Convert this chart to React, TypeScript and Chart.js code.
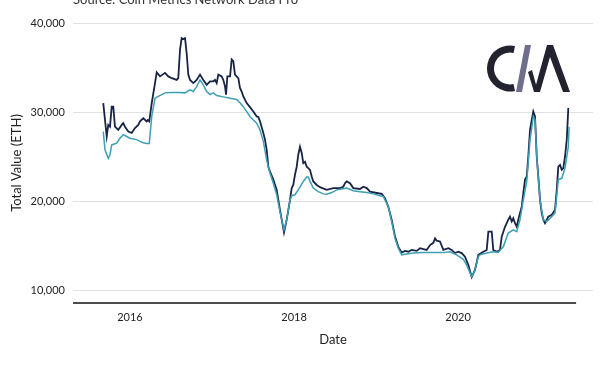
import React, { useEffect, useRef } from "react";
import { Chart, registerables } from "chart.js";

Chart.register(...registerables);

const SOURCE_TEXT = "Source: Coin Metrics Network Data Pro";
const X_TITLE = "Date";
const Y_TITLE = "Total Value (ETH)";
const X_TICKS = [2016, 2018, 2020];
const Y_TICKS = [10000, 20000, 30000, 40000];

// Dark series (decimal years / ETH)
const darkDates = [
  2015.674, 2015.716, 2015.735, 2015.756, 2015.777, 2015.796, 2015.817, 2015.857, 2015.899, 2015.918,
  2015.939, 2015.979, 2016.021, 2016.061, 2016.101, 2016.122, 2016.162, 2016.204, 2016.218, 2016.235,
  2016.265, 2016.305, 2016.326, 2016.366, 2016.427, 2016.467, 2016.509, 2016.57, 2016.589, 2016.61,
  2016.63, 2016.65, 2016.671, 2016.691, 2016.711, 2016.732, 2016.772, 2016.813, 2016.854, 2016.894,
  2016.935, 2016.976, 2017.016, 2017.037, 2017.057, 2017.077, 2017.118, 2017.138, 2017.159, 2017.171,
  2017.187, 2017.22, 2017.24, 2017.26, 2017.28, 2017.321, 2017.341, 2017.362, 2017.382, 2017.423,
  2017.463, 2017.504, 2017.545, 2017.565, 2017.585, 2017.626, 2017.646, 2017.667, 2017.687, 2017.707,
  2017.748, 2017.789, 2017.829, 2017.85, 2017.878, 2017.911, 2017.951, 2017.972, 2017.991, 2018.012,
  2018.033, 2018.052, 2018.073, 2018.094, 2018.113, 2018.134, 2018.155, 2018.174, 2018.195, 2018.216,
  2018.235, 2018.277, 2018.317, 2018.399, 2018.479, 2018.561, 2018.601, 2018.622, 2018.643, 2018.683,
  2018.723, 2018.805, 2018.845, 2018.887, 2018.927, 2019.009, 2019.07, 2019.11, 2019.15, 2019.191,
  2019.232, 2019.272, 2019.313, 2019.354, 2019.394, 2019.435, 2019.496, 2019.537, 2019.577, 2019.618,
  2019.659, 2019.699, 2019.72, 2019.74, 2019.78, 2019.821, 2019.882, 2019.923, 2019.963, 2020.004,
  2020.045, 2020.085, 2020.126, 2020.167, 2020.207, 2020.248, 2020.309, 2020.35, 2020.37, 2020.411,
  2020.43, 2020.472, 2020.512, 2020.533, 2020.573, 2020.613, 2020.634, 2020.655, 2020.674, 2020.695,
  2020.716, 2020.735, 2020.756, 2020.777, 2020.796, 2020.817, 2020.838, 2020.857, 2020.878, 2020.899,
  2020.918, 2020.939, 2020.96, 2020.979, 2021.0, 2021.021, 2021.04, 2021.061, 2021.101, 2021.143,
  2021.183, 2021.204, 2021.223, 2021.244, 2021.265, 2021.284, 2021.305, 2021.326, 2021.345,
];
const darkValues = [
  31000, 27250, 28550, 28350, 30600, 30600, 28350, 28000, 28550, 28750,
  28350, 27800, 27650, 28200, 28550, 28950, 29300, 28950, 29100, 28950,
  31000, 33250, 34450, 34000, 34400, 34000, 33800, 33600, 33800, 37000,
  38300, 38200, 38300, 36600, 34200, 33600, 33250, 33600, 34200, 33600,
  33050, 33450, 33450, 33600, 33250, 34200, 34000, 33600, 32850, 31950,
  34000, 34000, 35900, 35700, 34200, 33800, 32700, 32300, 31750, 31000,
  30550, 30050, 29500, 29450, 28950, 27650, 26900, 25750, 23850, 23300,
  22400, 21250, 19000, 17900, 16450, 17900, 20100, 21450, 21800, 22950,
  23850, 25200, 26100, 25400, 24250, 24400, 23850, 23700, 23500, 22750,
  22200, 21800, 21550, 21250, 21450, 21450, 21600, 22000, 22200, 22000,
  21450, 21350, 21600, 21450, 21050, 20900, 20800, 20300, 19350, 17900,
  16000, 14850, 14200, 14400, 14300, 14500, 14400, 14700, 14600, 14500,
  15050, 15300, 15800, 15550, 15450, 14500, 14700, 14500, 14150, 14300,
  14150, 13750, 12800, 11450, 12250, 13950, 14300, 14500, 16550, 16550,
  14500, 14300, 14500, 16000, 17100, 17900, 18250, 17700, 18050, 17500,
  17100, 17900, 18650, 19350, 20900, 22400, 22750, 25000, 28000, 29100,
  30050, 29500, 25000, 22750, 20100, 18650, 17900, 17500, 18250, 18450,
  19000, 21250, 23850, 24050, 23500, 23700, 25000, 26900, 30450,
];

// Teal (smoothed) series
const tealDates = [
  2015.674, 2015.695, 2015.735, 2015.756, 2015.777, 2015.838, 2015.878, 2015.918, 2015.96, 2016.0,
  2016.082, 2016.122, 2016.162, 2016.204, 2016.235, 2016.265, 2016.305, 2016.345, 2016.387, 2016.427,
  2016.509, 2016.589, 2016.671, 2016.732, 2016.772, 2016.813, 2016.854, 2016.894, 2016.935, 2016.976,
  2017.016, 2017.057, 2017.138, 2017.22, 2017.301, 2017.341, 2017.382, 2017.423, 2017.463, 2017.504,
  2017.545, 2017.585, 2017.626, 2017.667, 2017.707, 2017.748, 2017.789, 2017.829, 2017.878, 2017.911,
  2017.951, 2017.972, 2018.012, 2018.052, 2018.113, 2018.155, 2018.174, 2018.195, 2018.235, 2018.296,
  2018.357, 2018.399, 2018.46, 2018.521, 2018.582, 2018.643, 2018.723, 2018.805, 2018.887, 2018.967,
  2019.049, 2019.089, 2019.15, 2019.191, 2019.232, 2019.272, 2019.313, 2019.374, 2019.455, 2019.577,
  2019.699, 2019.821, 2019.902, 2019.984, 2020.065, 2020.106, 2020.167, 2020.207, 2020.248, 2020.268,
  2020.35, 2020.43, 2020.491, 2020.552, 2020.613, 2020.674, 2020.716, 2020.756, 2020.796, 2020.838,
  2020.878, 2020.899, 2020.918, 2020.939, 2020.96, 2021.0, 2021.04, 2021.082, 2021.122, 2021.183,
  2021.223, 2021.265, 2021.305, 2021.345, 2021.354,
];
const tealValues = [
  27800, 25750, 24800, 25200, 26300, 26500, 27050, 27450, 27250, 27050,
  26900, 26700, 26550, 26450, 26450, 29500, 31550, 31750, 31950, 32150,
  32200, 32200, 32150, 32500, 32300, 32850, 33600, 33050, 32300, 31950,
  32150, 31850, 31700, 31550, 31400, 31050, 30600, 30050, 29500, 29100,
  28750, 28000, 26700, 24600, 23150, 22000, 20700, 18800, 16750, 17900,
  20100, 20600, 20700, 21250, 22200, 22700, 22700, 22200, 21450, 21050,
  20800, 20750, 20950, 21250, 21350, 21450, 21150, 21050, 20950, 20800,
  20600, 20500, 19350, 17700, 15800, 14700, 13950, 14050, 14150, 14200,
  14200, 14200, 14300, 13950, 13450, 12800, 11500, 12250, 13750, 13950,
  14150, 14300, 14250, 14850, 16400, 16750, 16550, 17900, 20100, 22200,
  26900, 28200, 29500, 29100, 25000, 20100, 17900, 17700, 18050, 18650,
  22400, 22550, 23700, 26100, 28350,
];

const X_MIN = 2015.305;
const X_MAX = 2021.646;
const X_AXIS_END = 2021.44;
const Y_MIN = 8540;
const Y_MAX = 40000;

const FONT = "Lato, 'Open Sans', sans-serif";

const decorPlugin = {
  id: "decor",
  afterDraw(chart: any) {
    const ctx = chart.ctx;
    const xs = chart.scales.x;
    const area = chart.chartArea;
    ctx.save();
    // x-axis line
    ctx.strokeStyle = "#111111";
    ctx.lineWidth = 1.5;
    ctx.beginPath();
    ctx.moveTo(area.left, area.bottom);
    ctx.lineTo(xs.getPixelForValue(X_AXIS_END), area.bottom);
    ctx.stroke();
    // source text (cut at top)
    ctx.fillStyle = "#333333";
    ctx.font = "13px " + FONT;
    ctx.textBaseline = "alphabetic";
    ctx.textAlign = "left";
    ctx.fillText(SOURCE_TEXT, area.left, 4);
    // CM logo
    ctx.fillStyle = "#22232e";
    ctx.strokeStyle = "#22232e";
    ctx.lineWidth = 7;
    ctx.lineCap = "butt";
    ctx.beginPath();
    ctx.arc(510, 68.5, 19.5, -Math.PI * 0.43, Math.PI * 0.43, true);
    ctx.stroke();
    ctx.fillStyle = "#6f6f8c";
    ctx.beginPath();
    ctx.moveTo(516, 92);
    ctx.lineTo(522, 92);
    ctx.lineTo(531, 45);
    ctx.lineTo(525, 45);
    ctx.closePath();
    ctx.fill();
    ctx.fillStyle = "#22232e";
    ctx.beginPath();
    ctx.moveTo(528, 72);
    ctx.lineTo(534, 92);
    ctx.lineTo(538, 92);
    ctx.lineTo(532, 70);
    ctx.closePath();
    ctx.fill();
    ctx.beginPath();
    ctx.moveTo(534, 92);
    ctx.lineTo(547, 45);
    ctx.lineTo(553, 45);
    ctx.lineTo(570, 92);
    ctx.lineTo(563, 92);
    ctx.lineTo(550, 57);
    ctx.lineTo(540, 92);
    ctx.closePath();
    ctx.fill();
    ctx.restore();
  },
};

export default function App() {
  const ref = useRef<HTMLCanvasElement | null>(null);
  useEffect(() => {
    if (!ref.current) return;
    const dark = darkDates.map((d, i) => ({ x: d, y: darkValues[i] }));
    const teal = tealDates.map((d, i) => ({ x: d, y: tealValues[i] }));
    const chart = new Chart(ref.current, {
      type: "line",
      data: {
        datasets: [
          {
            label: "Teal",
            data: teal,
            borderColor: "#3d9fb4",
            borderWidth: 1.5,
            pointRadius: 0,
            tension: 0,
          },
          {
            label: "Dark",
            data: dark,
            borderColor: "#182446",
            borderWidth: 1.8,
            pointRadius: 0,
            tension: 0,
          },
        ],
      },
      options: {
        responsive: false,
        animation: false,
        layout: { padding: { top: 23, right: 7, bottom: 0, left: 0 } },
        plugins: {
          legend: { display: false },
          tooltip: { enabled: false },
          title: { display: false },
        },
        scales: {
          x: {
            type: "linear",
            min: X_MIN,
            max: X_MAX,
            grid: { display: false, drawTicks: false },
            border: { display: false },
            afterBuildTicks: (scale: any) => {
              scale.ticks = X_TICKS.map((v) => ({ value: v }));
            },
            afterFit: (scale: any) => {
              scale.height = 65;
            },
            ticks: {
              padding: 8,
              color: "#222222",
              font: { family: FONT, size: 11 },
              maxRotation: 0,
              callback: (v: any) => String(v),
            },
            title: {
              display: true,
              text: X_TITLE,
              color: "#222222",
              font: { family: FONT, size: 13 },
              padding: { top: 0, bottom: 20 },
            },
          },
          y: {
            min: Y_MIN,
            max: Y_MAX,
            grid: { color: "#e2e2e2", lineWidth: 1, drawTicks: false },
            border: { display: false },
            afterBuildTicks: (scale: any) => {
              scale.ticks = Y_TICKS.map((v) => ({ value: v }));
            },
            afterFit: (scale: any) => {
              scale.width = 73;
            },
            ticks: {
              padding: 8,
              color: "#222222",
              font: { family: FONT, size: 11 },
              callback: (v: any) => Number(v).toLocaleString("en-US"),
            },
            title: {
              display: true,
              text: Y_TITLE,
              color: "#222222",
              font: { family: FONT, size: 13 },
              padding: { top: 9, bottom: 0 },
            },
          },
        },
      },
      plugins: [decorPlugin],
    });
    return () => chart.destroy();
  }, []);
  return (
    <div style={{ position: "absolute", left: 0, top: 0, width: 600, height: 368, background: "#ffffff" }}>
      <canvas ref={ref} width={600} height={368} style={{ width: 600, height: 368, display: "block" }} />
    </div>
  );
}
